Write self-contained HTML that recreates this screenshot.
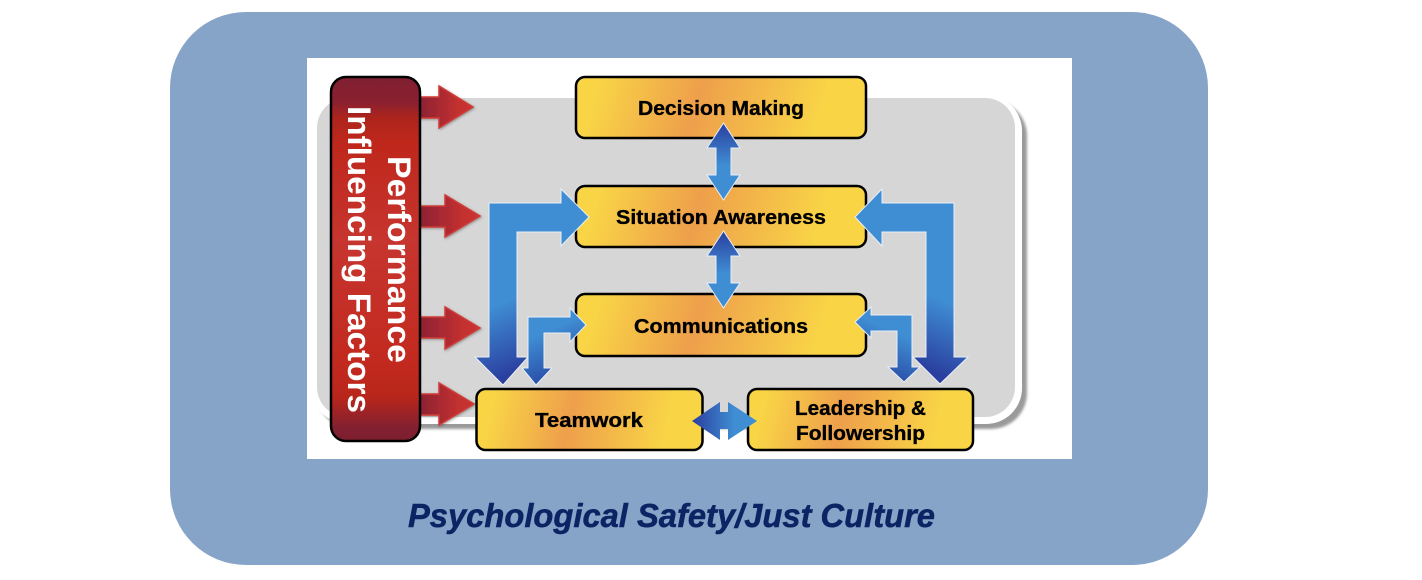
<!DOCTYPE html>
<html><head><meta charset="utf-8"><style>
html,body{margin:0;padding:0;background:#fff;width:1422px;height:580px;overflow:hidden}
svg{display:block}
text{font-family:"Liberation Sans",sans-serif;font-weight:bold}
</style></head><body>
<svg width="1422" height="580" viewBox="0 0 1422 580" xmlns="http://www.w3.org/2000/svg">
<defs>
<linearGradient id="y" x1="0" y1="0" x2="1" y2="0.06">
<stop offset="0.08" stop-color="#f9d546"/><stop offset="0.44" stop-color="#ee9f4b"/><stop offset="0.88" stop-color="#f9d546"/>
</linearGradient>
<linearGradient id="rb" x1="0" y1="0" x2="0" y2="1">
<stop offset="0" stop-color="#7f2031"/><stop offset="0.07" stop-color="#8a2030"/><stop offset="0.11" stop-color="#ac241d"/><stop offset="0.18" stop-color="#bf271b"/><stop offset="0.45" stop-color="#c6352f"/><stop offset="0.8" stop-color="#c2291e"/><stop offset="0.88" stop-color="#b8261b"/><stop offset="0.96" stop-color="#842030"/><stop offset="1" stop-color="#7b1f2f"/>
</linearGradient>
<linearGradient id="ra" x1="0" y1="0" x2="1" y2="0">
<stop offset="0" stop-color="#8c2234"/><stop offset="0.7" stop-color="#c2302f"/><stop offset="1" stop-color="#c93531"/>
</linearGradient>
<linearGradient id="bl" gradientUnits="userSpaceOnUse" x1="498" y1="305" x2="526" y2="368">
<stop offset="0" stop-color="#3f8dd3"/><stop offset="1" stop-color="#2a3f9f"/>
</linearGradient>
<linearGradient id="br" gradientUnits="userSpaceOnUse" x1="952" y1="305" x2="924" y2="368">
<stop offset="0" stop-color="#3f8dd3"/><stop offset="1" stop-color="#2a3f9f"/>
</linearGradient>
<linearGradient id="sl" gradientUnits="userSpaceOnUse" x1="528" y1="340" x2="546" y2="380">
<stop offset="0" stop-color="#3f8dd3"/><stop offset="1" stop-color="#2a4fa9"/>
</linearGradient>
<linearGradient id="sr" gradientUnits="userSpaceOnUse" x1="912" y1="340" x2="894" y2="380">
<stop offset="0" stop-color="#3f8dd3"/><stop offset="1" stop-color="#2a4fa9"/>
</linearGradient>
<linearGradient id="v" x1="0" y1="0" x2="0" y2="1">
<stop offset="0" stop-color="#2a3f9f"/><stop offset="0.55" stop-color="#3f8dd3"/><stop offset="1" stop-color="#3f8dd3"/>
</linearGradient>
<linearGradient id="h" x1="0" y1="0" x2="1" y2="0">
<stop offset="0" stop-color="#2a3f9f"/><stop offset="0.65" stop-color="#3f8dd3"/><stop offset="1" stop-color="#3f8dd3"/>
</linearGradient>
<filter id="s" x="-20%" y="-20%" width="140%" height="140%"><feDropShadow dx="1" dy="1" stdDeviation="1.2" flood-color="#555" flood-opacity=".55"/></filter>
<filter id="gs" x="-5%" y="-5%" width="110%" height="110%"><feDropShadow dx="5" dy="5" stdDeviation="1.2" flood-color="#888" flood-opacity=".85"/></filter>
</defs>

<rect x="170" y="12" width="1038" height="553" rx="76" fill="#86a3c8"/>
<rect x="307" y="58" width="765" height="401" fill="#fff"/>

<rect x="312" y="95" width="710" height="329" rx="36" fill="#fff" filter="url(#gs)"/>
<rect x="317" y="98" width="698" height="319" rx="30" fill="#d6d6d6"/>

<!-- red arrows -->
<g fill="url(#ra)" stroke="#d03a35" stroke-width="1.5" filter="url(#s)">
<path d="M420 97H439V86L473 107L439 128V118H420Z"/>
<path d="M420 206H445V195L480 216L445 237V227H420Z"/>
<path d="M420 317H445V307L480 328L445 349V338H420Z"/>
<path d="M420 394H439V383L474 404L439 425V415H420Z"/>
</g>

<!-- red bar -->
<rect x="331" y="77" width="89" height="364" rx="15" fill="url(#rb)" stroke="#000" stroke-width="2.5"/>
<g fill="#fff" font-size="32">
<text transform="translate(388,156) rotate(90)" textLength="207" lengthAdjust="spacingAndGlyphs">Performance</text>
<text transform="translate(348,106) rotate(90)" textLength="307" lengthAdjust="spacingAndGlyphs">Influencing Factors</text>
</g>

<!-- boxes -->
<g fill="url(#y)" stroke="#000" stroke-width="2.5">
<rect x="576" y="77" width="290" height="61" rx="9"/>
<rect x="576" y="186" width="290" height="61" rx="9"/>
<rect x="576" y="294" width="290" height="62" rx="9"/>
<rect x="476.500" y="389" width="226" height="61" rx="9"/>
<rect x="748" y="389" width="225" height="61" rx="9"/>
</g>

<!-- blue arrows -->
<g stroke="#e8eef6" stroke-width="1">
<path d="M517 357V232H561V246L589 217L561 189V203H489V357H475L503 385L528 357Z" fill="url(#bl)"/>
<path d="M926 357V232H882V246L855 217L882 189V203H954V357H968L940 384L913 357Z" fill="url(#br)"/>
<path d="M544 368V333H570V342L586 325L570 308V317H528V368H522L536 385L552 368Z" fill="url(#sl)"/>
<path d="M897 367V331H871V338L855 322L871 307V315H912V367H920L904 382L888 367Z" fill="url(#sr)"/>
<path d="M723.500 123L740 148H731V175H740L723.500 200L707 175H716V148H707Z" fill="url(#v)"/>
<path d="M723.500 231L740 256H731V283H740L723.500 308L707 283H716V256H707Z" fill="url(#v)"/>
<path d="M692 421L720 402V412H728V402L757 421L728 440V429H720V440Z" fill="url(#h)" stroke="none"/>
</g>

<!-- labels -->
<g fill="#000" stroke="#000" stroke-width="0.35" font-size="20.500" text-anchor="start">
<text x="638" y="115" textLength="166" lengthAdjust="spacingAndGlyphs">Decision Making</text>
<text x="616" y="224" textLength="210" lengthAdjust="spacingAndGlyphs">Situation Awareness</text>
<text x="634" y="333" textLength="174" lengthAdjust="spacingAndGlyphs">Communications</text>
<text x="535" y="427" textLength="108" lengthAdjust="spacingAndGlyphs">Teamwork</text>
<text x="795" y="415" textLength="131" lengthAdjust="spacingAndGlyphs">Leadership &amp;</text>
<text x="796" y="440" textLength="129" lengthAdjust="spacingAndGlyphs">Followership</text>
</g>

<text x="408" y="527" font-size="33" font-style="italic" fill="#0b2463" stroke="#0b2463" stroke-width="0.5" textLength="527" lengthAdjust="spacingAndGlyphs">Psychological Safety/Just Culture</text>
</svg>
</body></html>
